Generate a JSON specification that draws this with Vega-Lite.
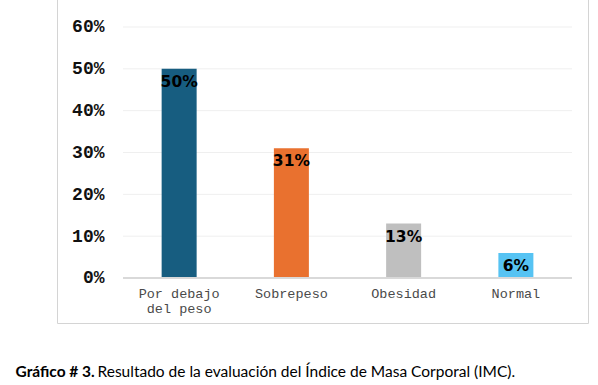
{
  "$schema": "https://vega.github.io/schema/vega-lite/v6.json",
  "width": 531,
  "height": 326,
  "autosize": {"type": "none"},
  "padding": {"left": 57, "top": -3, "right": 10, "bottom": 62},
  "background": "white",
  "config": {"view": {"stroke": "#d4d4d4", "strokeWidth": 1}},
  "datasets": {
    "imc": [
      {"categoria": "Por debajo del peso", "valor": 0.50},
      {"categoria": "Sobrepeso", "valor": 0.31},
      {"categoria": "Obesidad", "valor": 0.13},
      {"categoria": "Normal", "valor": 0.06}
    ],
    "grid": [
      {"g": 0.1}, {"g": 0.2}, {"g": 0.3}, {"g": 0.4}, {"g": 0.5}, {"g": 0.6}
    ]
  },
  "layer": [
    {
      "data": {"name": "grid"},
      "mark": {"type": "rule", "color": "#efefef", "strokeWidth": 1},
      "encoding": {
        "x": {"datum": "Por debajo del peso", "type": "nominal", "bandPosition": 0,
              "scale": {"domain": ["Por debajo del peso", "Sobrepeso", "Obesidad", "Normal"], "paddingInner": 0, "paddingOuter": 0.3653, "align": 0.805}},
        "x2": {"datum": "Normal", "bandPosition": 1},
        "y": {"field": "g", "type": "quantitative",
              "scale": {"domain": [-0.10757, 0.67171], "nice": false, "zero": false}}
      }
    },
    {
      "data": {"name": "imc"},
      "mark": {"type": "bar", "width": 35},
      "encoding": {
        "x": {"field": "categoria", "type": "nominal", "sort": null,
              "axis": {
                "orient": "bottom", "offset": -45, "domain": false, "ticks": false, "grid": false,
                "labelPadding": 8, "labelFont": "Liberation Mono", "labelFontSize": 13.5,
                "labelColor": "#4a4a4a", "labelAngle": 0, "labelAlign": "center", "labelLineHeight": 15, "labelBaseline": "top",
                "labelExpr": "datum.label == 'Por debajo del peso' ? ['Por debajo', 'del peso'] : datum.label",
                "title": "Resultado de la evaluación del Índice de Masa Corporal (IMC).",
                "titleX": 40, "titleY": 98, "titleAnchor": "start", "titleAlign": "left",
                "titleBaseline": "alphabetic", "titleFont": "Lato", "titleFontSize": 15.5,
                "titleFontWeight": "normal", "titleColor": "#000000"
              }},
        "y": {"field": "valor", "type": "quantitative",
              "axis": {
                "offset": -47, "domain": false, "ticks": false, "grid": false,
                "values": [0, 0.1, 0.2, 0.3, 0.4, 0.5, 0.6], "format": ".0%",
                "labelPadding": 0, "labelFont": "Liberation Mono", "labelFontSize": 18,
                "labelFontWeight": "bold", "labelColor": "#111111",
                "title": "Gráfico # 3.", "titleAngle": 0, "titleX": -89, "titleY": 379,
                "titleAlign": "left", "titleBaseline": "alphabetic", "titleFont": "Lato",
                "titleFontSize": 15.5, "titleFontWeight": "bold", "titleColor": "#000000"
              }},
        "color": {"field": "categoria", "type": "nominal", "legend": null,
                  "scale": {"domain": ["Por debajo del peso", "Sobrepeso", "Obesidad", "Normal"],
                            "range": ["#175d80", "#e9712f", "#bfbfbf", "#56c3f3"]}}
      }
    },
    {
      "data": {"name": "imc"},
      "mark": {"type": "rule", "color": "#d9d9d9", "strokeWidth": 1.5},
      "encoding": {
        "x": {"datum": "Por debajo del peso", "type": "nominal", "bandPosition": 0},
        "x2": {"datum": "Normal", "bandPosition": 1},
        "y": {"datum": 0, "type": "quantitative"}
      }
    },
    {
      "data": {"name": "imc"},
      "mark": {"type": "text", "baseline": "top", "dy": 6, "font": "DejaVu Sans", "fontWeight": "bold", "fontSize": 15.5, "color": "#000000"},
      "encoding": {
        "x": {"field": "categoria", "type": "nominal"},
        "y": {"field": "valor", "type": "quantitative"},
        "text": {"field": "valor", "type": "quantitative", "format": ".0%"}
      }
    }
  ]
}
